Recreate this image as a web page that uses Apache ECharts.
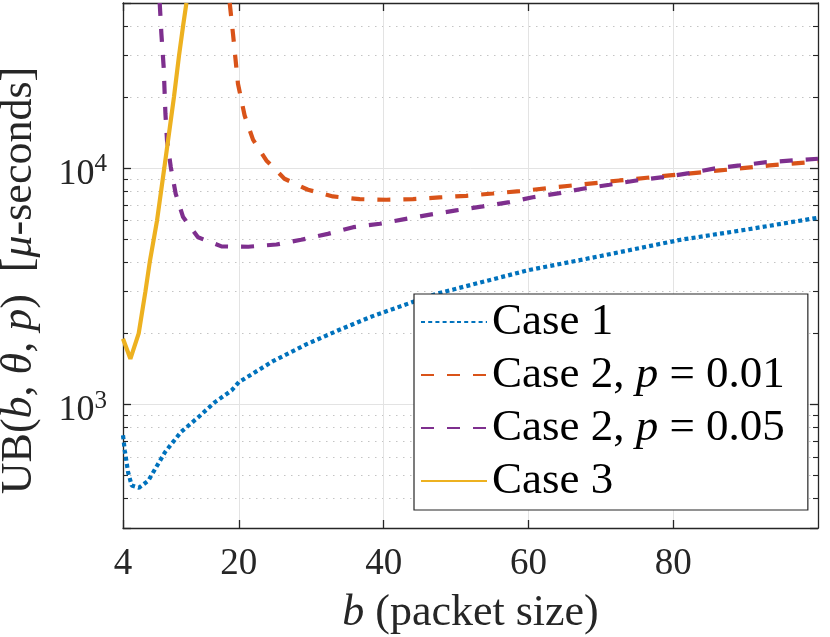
<!DOCTYPE html>
<html>
<head>
<meta charset="utf-8">
<script src="https://cdn.jsdelivr.net/npm/echarts@6/dist/echarts.min.js"></script>
<style>
html, body { margin: 0; padding: 0; background: #fff; }
#chart { width: 830px; height: 637px; }
</style>
</head>
<body>
<div id="chart"></div>
<script>
// values
var case1B   = [4, 4.25, 4.7, 5.2, 6.2, 7.5, 9.8, 12, 14.4, 16.7, 19, 20, 24.7, 29.3, 33.9, 38.5, 43.6, 47.3, 54.6, 60, 70, 81, 90, 100];
var case1UB  = [740, 638, 517, 454, 444, 476, 628, 764, 883, 1023, 1146, 1242, 1524, 1795, 2070, 2365, 2685, 2940, 3357, 3700, 4250, 4975, 5487, 6170];

var case201B  = [18.74, 19.19, 19.88, 20.8, 21.96, 23.8, 26.3, 29.55, 33, 36.7, 40.4, 44.05, 47.7, 51.4, 55.1, 58.8, 65.7, 72.6, 79.5, 86.4, 93.3, 100];
var case201UB = [50000, 37100, 22770, 16700, 13200, 10780, 9020, 8103, 7590, 7392, 7350, 7392, 7517, 7640, 7810, 7993, 8425, 8870, 9313, 9778, 10267, 10675];

var case205B  = [9.07, 9.3, 9.62, 9.86, 10.08, 10.6, 11.28, 12.3, 14.36, 17.6, 21.3, 25.2, 28.6, 32.3, 35.8, 39.5, 42.9, 46.4, 50, 53.7, 57.4, 60.6, 64.3, 67.5, 71.2, 74.9, 78.6, 82.2, 86, 89.2, 92.9, 96.5, 100];
var case205UB = [50000, 37100, 26700, 17000, 13100, 10100, 7790, 6210, 5100, 4665, 4650, 4752, 4975, 5272, 5625, 5818, 6085, 6355, 6625, 6887, 7180, 7530, 7836, 8183, 8506, 8870, 9160, 9525, 10000, 10267, 10600, 10780, 10960];

var case3B  = [4, 5.02, 6.17, 7.09, 7.69, 8.7, 9.7, 11.04, 11.74, 12.3, 12.76];
var case3UB = [1897, 1560, 2000, 3000, 4000, 6000, 10000, 20000, 30000, 40000, 50000];

var seriesNames = ['Case 1', 'Case 2, p = 0.01', 'Case 2, p = 0.05', 'Case 3'];

var xTickValues = [4, 20, 40, 60, 80];
var yMinorValues = [400, 500, 600, 700, 800, 900,
                    2000, 3000, 4000, 5000, 6000, 7000, 8000, 9000,
                    20000, 30000, 40000];

var FONT = 'Liberation Serif';
var AX = '#262626';
var GRIDC = '#E3E3E3';
var MINORC = '#C4C4C4';

function pairs(xs, ys) {
	return xs.map(function (x, i) { return [x, ys[i]]; });
}

function xAxisDef(pos, main) {
	var a = {
		type: 'value', position: pos, min: 4, max: 100, interval: 4,
		axisLine: { show: true, onZero: false, lineStyle: { color: AX, width: 1.3 } },
		axisTick: { show: true, inside: true, length: 8, customValues: xTickValues, lineStyle: { color: AX, width: 1.3 } },
		axisLabel: { show: main, customValues: xTickValues, margin: 18, color: AX, fontFamily: FONT, fontSize: 37 },
		splitLine: { show: main, lineStyle: { color: GRIDC, width: 1 } }
	};
	if (main) {
		a.name = '{i|b} (packet size)';
		a.nameLocation = 'middle';
		a.nameGap = 63;
		a.nameTextStyle = { color: AX, fontFamily: FONT, fontSize: 44,
			rich: { i: { fontStyle: 'italic', fontFamily: FONT, fontSize: 44, color: AX } } };
	}
	return a;
}

function yAxisDef(pos, minor, main) {
	return {
		type: 'log', logBase: 10, min: 300, max: 50000, position: pos,
		axisLine: { show: !minor, onZero: false, lineStyle: { color: AX, width: 1.3 } },
		axisTick: minor ?
			{ show: true, inside: true, length: 5, customValues: yMinorValues, lineStyle: { color: AX, width: 1.1 } } :
			{ show: true, inside: true, length: 8, lineStyle: { color: AX, width: 1.3 } },
		axisLabel: { show: false },
		splitLine: { show: main, lineStyle: minor ?
			{ color: MINORC, width: 1, type: [1.5, 5.5] } :
			{ color: GRIDC, width: 1 } }
	};
}

var yMain = yAxisDef('left', false, true);
yMain.axisLabel = {
	show: true, margin: 16, color: AX, padding: [12, 0, 0, 0],
	formatter: function (v) {
		var e = Math.round(Math.log10(v));
		return Math.abs(v - Math.pow(10, e)) < 1e-6 * v ? '{b|10}{s|' + e + '}' : '';
	},
	rich: {
		b: { fontFamily: FONT, fontSize: 36, color: AX, lineHeight: 44 },
		s: { fontFamily: FONT, fontSize: 25, color: AX, lineHeight: 26, verticalAlign: 'top' }
	}
};
yMain.name = 'UB({i|b}, {i|θ}, {i|p})  [{i|μ}-seconds]';
yMain.nameLocation = 'middle';
yMain.nameRotate = 90;
yMain.nameGap = 82;
yMain.nameTextStyle = { color: AX, fontFamily: FONT, fontSize: 44, padding: [0, 30, 0, 0],
	rich: { i: { fontStyle: 'italic', fontFamily: FONT, fontSize: 44, color: AX } } };

function lineSeries(name, xs, ys, color, dash) {
	return {
		name: name, type: 'line', data: pairs(xs, ys),
		xAxisIndex: 0, yAxisIndex: 0,
		symbol: 'none', showSymbol: false, clip: true,
		lineStyle: { color: color, width: 4.2, type: dash, cap: 'butt' },
		itemStyle: { color: color },
		emphasis: { disabled: true }
	};
}

var option = {
	animation: false,
	backgroundColor: '#fff',
	textStyle: { fontFamily: FONT },
	grid: { left: 123, right: 12, top: 3, bottom: 109, outerBoundsMode: 'none' },
	legend: {
		orient: 'vertical', left: 414, top: 294,
		padding: [5, 23, 6, 6], itemWidth: 66, itemHeight: 2, itemGap: 7,
		backgroundColor: '#fff', borderColor: AX, borderWidth: 1.2,
		textStyle: { fontFamily: FONT, fontSize: 45, color: '#000', lineHeight: 46,
			rich: { i: { fontStyle: 'italic', fontFamily: FONT, fontSize: 45, color: '#000', lineHeight: 46 } } },
		formatter: function (name) { return name.replace(' p ', ' {i|p} '); },
		data: seriesNames
	},
	xAxis: [xAxisDef('bottom', true), xAxisDef('top', false)],
	yAxis: [yMain, yAxisDef('left', true, true), yAxisDef('right', false, false), yAxisDef('right', true, false)],
	series: [
		lineSeries(seriesNames[0], case1B, case1UB, '#0072BD', [4, 3.2]),
		lineSeries(seriesNames[1], case201B, case201UB, '#D95319', [13, 13]),
		lineSeries(seriesNames[2], case205B, case205UB, '#7E2F8E', [13, 13]),
		lineSeries(seriesNames[3], case3B, case3UB, '#EDB120', 'solid')
	]
};

var myChart = echarts.init(document.getElementById('chart'));
myChart.setOption(option);
</script>
</body>
</html>
